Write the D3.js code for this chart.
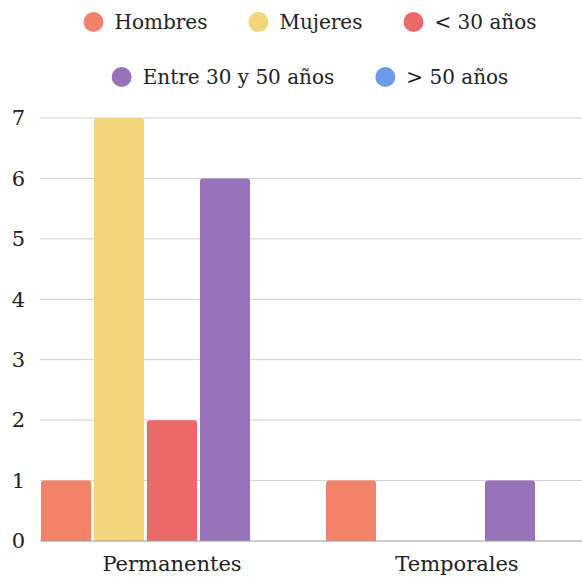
<!DOCTYPE html>
<html>
<head>
<meta charset="utf-8">
<script src="https://cdn.jsdelivr.net/npm/d3@7"></script>
<style>
  body { margin: 0; background: #fff; }
  svg text { font-family: "DejaVu Serif", serif; fill: #222; }
</style>
</head>
<body>
<svg id="chart" width="582" height="577"></svg>
<script>
// data
var categories = ['Permanentes', 'Temporales'];
var series = ['Hombres', 'Mujeres', '< 30 años', 'Entre 30 y 50 años', '> 50 años'];
var colors = ['#f3826a', '#f3d57a', '#ea6868', '#9873bc', '#6b9be8'];
var permanentes = [1, 7, 2, 6, 0];
var temporales = [1, 0, 0, 1, 0];
var yTicks = [0, 1, 2, 3, 4, 5, 6, 7];

var svg = d3.select('#chart');
var fontSize = 21;

var plotLeft = 40, plotRight = 582, baseY = 541, topY = 118;

var y = d3.scaleLinear().domain([0, 7]).range([baseY, topY]);
var x0 = d3.scaleBand().domain(categories).range([29.5, 599.5]);
var x1 = d3.scaleBand().domain(series).range([11.5, 273.5]).paddingInner(3 / 53);

var rows = [];
categories.forEach(function(c, ci) {
  var vals = ci === 0 ? permanentes : temporales;
  series.forEach(function(s, si) {
    rows.push({cat: c, ser: s, value: vals[si], color: colors[si]});
  });
});

// grid
svg.append('g')
  .selectAll('line')
  .data(yTicks.filter(function(t) { return t > 0; }))
  .enter().append('line')
  .attr('x1', plotLeft).attr('x2', plotRight)
  .attr('y1', function(d) { return y(d); })
  .attr('y2', function(d) { return y(d); })
  .attr('stroke', '#d0d0d0').attr('stroke-width', 1);

// bars with rounded tops
var r = 3;
svg.append('g')
  .selectAll('path')
  .data(rows.filter(function(d) { return d.value > 0; }))
  .enter().append('path')
  .attr('d', function(d) {
    var bx = x0(d.cat) + x1(d.ser), bw = x1.bandwidth();
    var top = y(d.value), bot = y(0);
    return 'M' + bx + ',' + bot +
      'V' + (top + r) +
      'Q' + bx + ',' + top + ' ' + (bx + r) + ',' + top +
      'H' + (bx + bw - r) +
      'Q' + (bx + bw) + ',' + top + ' ' + (bx + bw) + ',' + (top + r) +
      'V' + bot + 'Z';
  })
  .attr('fill', function(d) { return d.color; });

// baseline
svg.append('line')
  .attr('x1', plotLeft).attr('x2', plotRight)
  .attr('y1', y(0)).attr('y2', y(0))
  .attr('stroke', '#999').attr('stroke-width', 1);

// y labels
svg.append('g')
  .selectAll('text')
  .data(yTicks)
  .enter().append('text')
  .attr('x', 25)
  .attr('y', function(d) { return y(d); })
  .attr('dy', '0.35em')
  .attr('text-anchor', 'end')
  .attr('font-size', fontSize)
  .text(function(d) { return d; });

// x labels
svg.append('g')
  .selectAll('text')
  .data(categories)
  .enter().append('text')
  .attr('x', function(d) { return x0(d) + x0.bandwidth() / 2; })
  .attr('y', 571)
  .attr('text-anchor', 'middle')
  .attr('font-size', fontSize)
  .text(function(d) { return d; });

// legend, two centred rows
var legendRows = [[0, 1, 2], [3, 4]];
var legendY = [22, 77];
var centreX = 310, gap = 41, dotR = 10, textOff = 31;
legendRows.forEach(function(idxs, ri) {
  var g = svg.append('g');
  var items = idxs.map(function(i) {
    var t = g.append('text')
      .attr('font-size', 20)
      .attr('dy', '0.35em')
      .text(series[i]);
    return {i: i, t: t, w: t.node().getComputedTextLength()};
  });
  var total = d3.sum(items, function(d) { return d.w + textOff; }) + gap * (items.length - 1);
  var cx = centreX - total / 2;
  items.forEach(function(it) {
    g.append('circle')
      .attr('cx', cx + dotR).attr('cy', legendY[ri]).attr('r', dotR)
      .attr('fill', colors[it.i]);
    it.t.attr('x', cx + textOff).attr('y', legendY[ri]);
    cx += it.w + textOff + gap;
  });
});
</script>
</body>
</html>
